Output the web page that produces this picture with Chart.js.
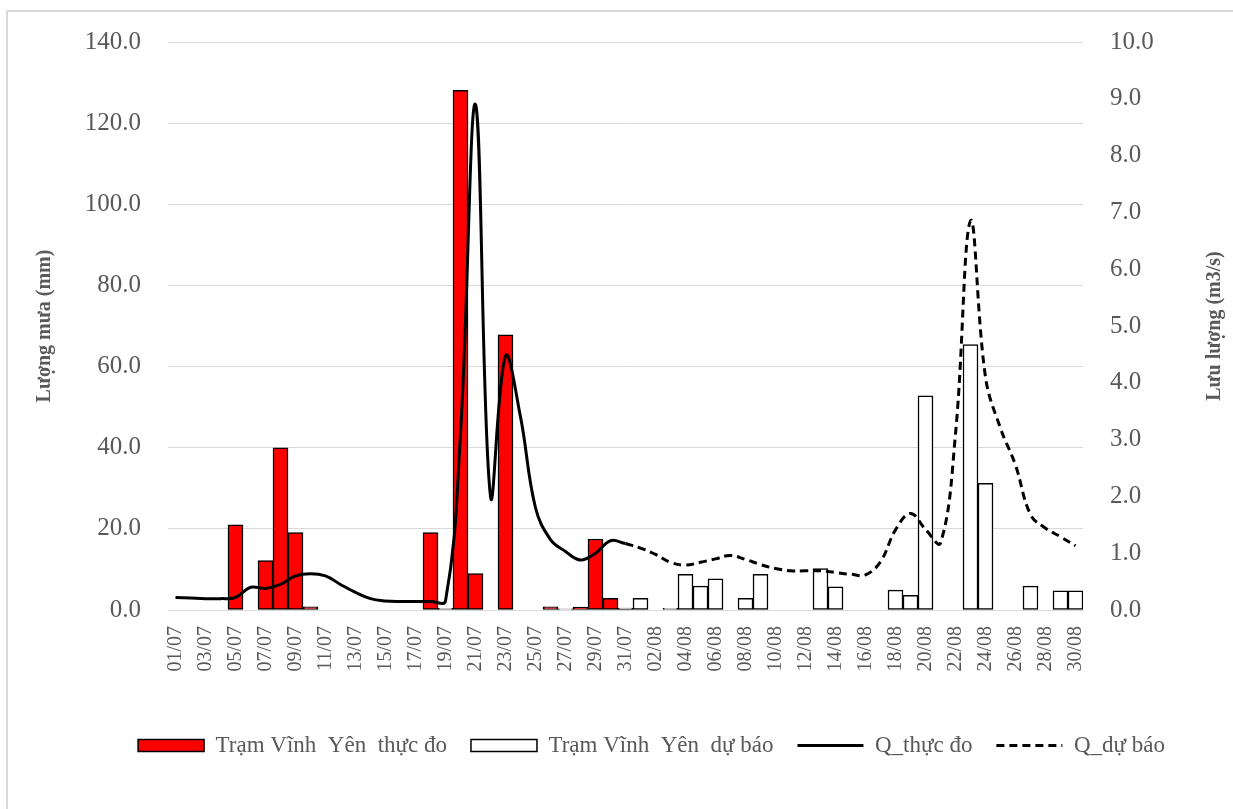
<!DOCTYPE html>
<html>
<head>
<meta charset="utf-8">
<script src="https://cdn.jsdelivr.net/npm/chart.js@4/dist/chart.umd.min.js"></script>
<style>
  html, body { margin: 0; padding: 0; background: #fff; }
</style>
</head>
<body>
<canvas id="chart" width="1233" height="809"></canvas>
<script>
(function () {
  "use strict";

  // ── Data ────────────────────────────────────────

  var days = [
    "01/07","02/07","03/07","04/07","05/07","06/07","07/07","08/07","09/07","10/07",
    "11/07","12/07","13/07","14/07","15/07","16/07","17/07","18/07","19/07","20/07",
    "21/07","22/07","23/07","24/07","25/07","26/07","27/07","28/07","29/07","30/07",
    "31/07","01/08","02/08","03/08","04/08","05/08","06/08","07/08","08/08","09/08",
    "10/08","11/08","12/08","13/08","14/08","15/08","16/08","17/08","18/08","19/08",
    "20/08","21/08","22/08","23/08","24/08","25/08","26/08","27/08","28/08","29/08",
    "30/08"
  ];

  // rainfall (mm), measured
  var rainObs = [
    null, null, null, null, 21.0, null, 12.2, 40.0, 19.1, 0.8,
    null, null, null, null, null, null, null, 19.1, null, 128.1,
    9.0, null, 67.8, null, null, 0.8, null, 0.7, 17.5, 2.9,
    null, null, null, null, null, null, null, null, null, null,
    null, null, null, null, null, null, null, null, null, null,
    null, null, null, null, null, null, null, null, null, null,
    null
  ];

  // rainfall (mm), forecast
  var rainFc = [
    null, null, null, null, null, null, null, null, null, null,
    null, null, null, null, null, null, null, null, 0.4, null,
    null, null, null, null, null, null, 0.3, null, null, null,
    0.5, 2.9, null, 0.4, 8.8, 5.9, 7.7, null, 2.9, 8.8,
    null, null, null, 10.2, 5.7, null, null, null, 4.9, 3.6,
    52.8, null, null, 65.4, 31.2, null, null, 5.9, null, 4.7,
    4.7
  ];

  // discharge (m3/s), measured 01/07 - 31/07
  var qObs = [
    0.22, 0.21, 0.20, 0.20, 0.22, 0.40, 0.38, 0.45, 0.60, 0.64,
    0.60, 0.45, 0.31, 0.20, 0.16, 0.15, 0.15, 0.15, 0.16, 3.10,
    8.90, 2.00, 4.47, 3.40, 1.80, 1.24, 1.03, 0.88, 1.00, 1.22,
    1.17
  ];

  // discharge (m3/s), forecast 31/07 - 30/08
  var qFc = [
    1.17, 1.09, 0.98, 0.84, 0.79, 0.84, 0.90, 0.96, 0.89, 0.80,
    0.73, 0.69, 0.69, 0.69, 0.66, 0.63, 0.62, 0.85, 1.41, 1.70,
    1.42, 1.18, 3.10, 6.85, 4.10, 3.20, 2.55, 1.68, 1.44, 1.29,
    1.13
  ];

  var leftTitle = "Lượng mưa (mm)";
  var rightTitle = "Lưu lượng (m3/s)";

  var qObsData = qObs.concat(new Array(days.length - qObs.length).fill(null));
  var qFcData = new Array(days.length - qFc.length).fill(null).concat(qFc);

  // ── Style ───────────────────────────────────────

  var FONT = "'Liberation Serif', 'Times New Roman', serif";
  var GREY = "#595959";
  var GRID = "#d9d9d9";

  Chart.defaults.font.family = FONT;
  Chart.defaults.color = GREY;

  // frame + rotated axis titles
  var decor = {
    id: "decor",
    beforeDraw: function (chart) {
      var c = chart.ctx;
      c.save();
      c.strokeStyle = GRID;
      c.lineWidth = 2;
      c.beginPath();
      c.moveTo(7, 812);
      c.lineTo(7, 11);
      c.lineTo(1236, 11);
      c.stroke();
      c.restore();
    },
    afterDraw: function (chart) {
      var c = chart.ctx, a = chart.chartArea;
      var midY = (a.top + a.bottom) / 2;
      [[45, leftTitle], [1215, rightTitle]].forEach(function (t) {
        c.save();
        c.font = "bold 20px " + FONT;
        c.fillStyle = GREY;
        c.textAlign = "center";
        c.textBaseline = "middle";
        c.translate(t[0], midY);
        c.rotate(-Math.PI / 2);
        c.fillText(t[1], 0, 0);
        c.restore();
      });
    }
  };

  new Chart(document.getElementById("chart"), {
    type: "bar",
    data: {
      labels: days,
      datasets: [
        { label: "Trạm Vĩnh  Yên  thực đo", data: rainObs, backgroundColor: "#ff0000", borderColor: "#000", borderWidth: 1.5, borderSkipped: false,
          grouped: false, barPercentage: 1, categoryPercentage: 1, yAxisID: "y", order: 1, pointStyle: "rect" },
        { label: "Trạm Vĩnh  Yên  dự báo", data: rainFc, backgroundColor: "#ffffff", borderColor: "#000", borderWidth: 1.5, borderSkipped: false,
          grouped: false, barPercentage: 1, categoryPercentage: 1, yAxisID: "y", order: 1, pointStyle: "rect" },
        { type: "line", label: "Q_thực đo", data: qObsData, borderColor: "#000", backgroundColor: "#000", borderWidth: 3,
          pointRadius: 0, tension: 0.4, fill: false, yAxisID: "y1", order: 0, pointStyle: "line" },
        { type: "line", label: "Q_dự báo", data: qFcData, borderColor: "#000", backgroundColor: "#000", borderWidth: 3, borderDash: [8, 5],
          pointRadius: 0, tension: 0.4, fill: false, yAxisID: "y1", order: 0, pointStyle: "line" }
      ]
    },
    options: {
      responsive: false,
      animation: false,
      layout: { padding: { top: 38, left: 70, right: 0, bottom: 42 } },
      plugins: {
        tooltip: { enabled: false },
        legend: {
          position: "bottom",
          labels: {
            usePointStyle: true, pointStyleWidth: 66, boxWidth: 66, boxHeight: 12,
            padding: 24, color: GREY, font: { size: 23 },
            sort: function (a, b) { return a.datasetIndex - b.datasetIndex; },
            generateLabels: function (chart) {
              var items = Chart.defaults.plugins.legend.labels.generateLabels(chart);
              items.forEach(function (it) {
                var ds = chart.data.datasets[it.datasetIndex];
                it.lineDash = ds.borderDash || [];
                it.lineWidth = ds.borderWidth;
                it.strokeStyle = ds.borderColor;
                it.fillStyle = ds.backgroundColor;
                it.pointStyle = ds.pointStyle;
              });
              return items;
            }
          }
        }
      },
      scales: {
        x: {
          grid: { display: false, drawTicks: false },
          border: { color: GRID, width: 1 },
          ticks: {
            autoSkip: false, minRotation: 90, maxRotation: 90, padding: 16,
            color: GREY, font: { size: 20 },
            callback: function (v, i) { return i % 2 === 0 ? days[i] : ""; }
          },
          afterFit: function (s) { s.height = 100; }
        },
        y: {
          position: "left", min: 0, max: 140,
          grid: { color: GRID, drawTicks: false },
          border: { display: false },
          ticks: { stepSize: 20, padding: 27, color: GREY, font: { size: 25 },
            callback: function (v) { return v.toFixed(1); } },
          afterFit: function (s) { s.width = 98; }
        },
        y1: {
          position: "right", min: 0, max: 10,
          grid: { display: false, drawTicks: false },
          border: { display: false },
          ticks: { stepSize: 1, padding: 27, color: GREY, font: { size: 25 },
            callback: function (v) { return v.toFixed(1); } },
          afterFit: function (s) { s.width = 150; }
        }
      }
    },
    plugins: [decor]
  });
})();
</script>
</body>
</html>
